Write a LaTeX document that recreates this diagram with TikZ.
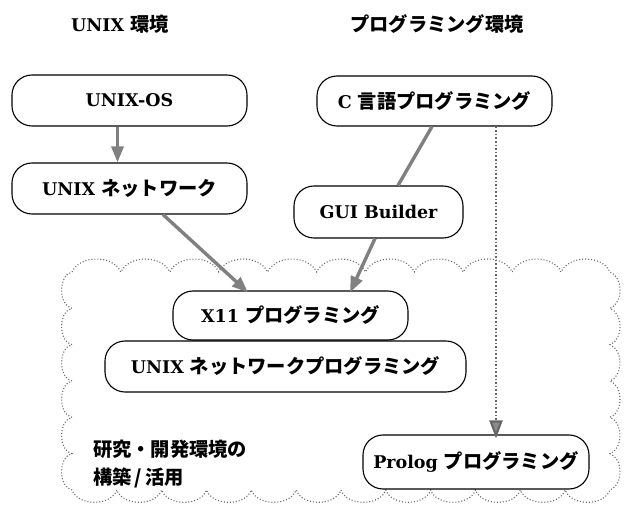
\documentclass[tikz,border=0pt]{standalone}
\usepackage{fontspec}
\setmainfont{DejaVu Serif}
\newfontfamily\jp{Noto Sans CJK JP}[Scale=1.1]
\usetikzlibrary{arrows.meta}
\newcommand{\J}[1]{{\jp\bfseries #1}}
\begin{document}
\begin{tikzpicture}[x=1pt,y=-1pt,
  box/.style={draw, line width=1.1pt, rounded corners=20pt, fill=white, inner sep=0pt,
    font=\fontsize{17.5}{22}\selectfont\bfseries},
  hatch/.style={line width=3.4pt, draw=black!50},
  harrow/.style={hatch, -{Triangle[length=16pt,width=12pt]}},
  darrow/.style={draw=black!60, line width=2.2pt, dash pattern=on 1.6pt off 2pt, -{Triangle[length=18pt,width=13pt,fill=black!45]}},
  cloudline/.style={draw=black!60, dash pattern=on 1pt off 2pt, line width=1.1pt},
  lbl/.style={font=\fontsize{17.5}{22}\selectfont\bfseries, inner sep=0pt}]
\useasboundingbox (0,0) rectangle (625,513);

% cloud
\draw[cloudline] (72,272)
  foreach \i in {1,...,11} { to[bend left=65] ({72+\i*48.909},272) }
  foreach \i in {1,...,6} { to[bend left=70] (610,{272+\i*36.333}) }
  foreach \i in {1,...,12} { to[bend left=70] ({610-\i*44.833},490) }
  foreach \i in {1,...,6} { to[bend left=78] (72,{490-\i*36.333}) } -- cycle;

% titles
\node[lbl] (t1) at (120,24) {UNIX \J{環境}};
\node[lbl] (t2) at (437,24) {\J{プログラミング環境}};

% boxes
\node[box, minimum width=235pt, minimum height=51pt] (osbox) at (129.5,100.5) {UNIX-OS};
\node[box, minimum width=235pt, minimum height=51pt] (netbox) at (129.5,188.5) {UNIX \J{ネットワーク}};
\node[box, minimum width=235pt, minimum height=50pt] (cbox) at (434.5,101) {C \J{言語プログラミング}};
\node[box, minimum width=169pt, minimum height=52pt] (guibox) at (378.5,212) {GUI Builder};
\node[box, minimum width=361pt, minimum height=51pt] (netprog) at (285.5,366.5) {UNIX \J{ネットワークプログラミング}};
\node[box, minimum width=235pt, minimum height=49pt] (x11box) at (290.5,315.5) {X11 \J{プログラミング}};
\node[box, minimum width=226pt, minimum height=54pt] (prolog) at (476,462) {Prolog \J{プログラミング}};

% note
\node[lbl, anchor=west, align=left, font=\fontsize{17.5}{28}\selectfont\bfseries] (note) at (93,464)
  {\J{研究・開発環境の}\\\J{構築\,/\,活用}};

% connectors
\draw[harrow] ([xshift=-12pt]osbox.south) -- ([xshift=-12pt]netbox.north);
\draw[harrow] ([xshift=33.5pt]netbox.south) -- ([xshift=-42.5pt,yshift=-2pt]x11box.north);
\draw[hatch] ([xshift=-2.5pt]cbox.south) -- ([xshift=19.5pt]guibox.north);
\draw[harrow] ([xshift=-3.5pt]guibox.south) -- ([xshift=59.5pt,yshift=-2pt]x11box.north);
\draw[darrow] ([xshift=61.5pt]cbox.south) -- ([xshift=20pt,yshift=-4pt]prolog.north);
\end{tikzpicture}
\end{document}
